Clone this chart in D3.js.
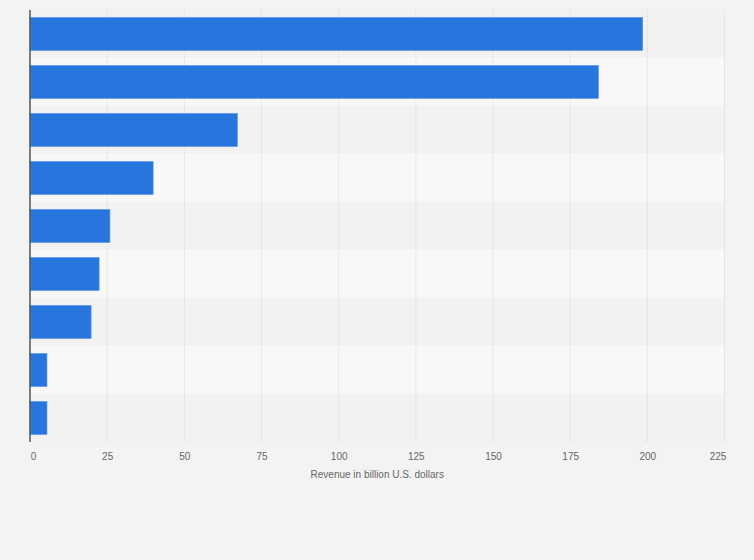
<!DOCTYPE html>
<html>
<head>
<meta charset="utf-8">
<script src="https://cdn.jsdelivr.net/npm/d3@7"></script>
<style>
  body { margin: 0; background: #f3f3f3; }
  svg { display: block; font-family: "Liberation Sans", Arial, sans-serif; }
</style>
</head>
<body>
<div id="chart"></div>
<script>
// one entry per bar, top to bottom (category names are not shown on the chart)
const categories = ['c1', 'c2', 'c3', 'c4', 'c5', 'c6', 'c7', 'c8', 'c9'];
const revenue = [198.5, 184.2, 67.2, 39.9, 25.9, 22.4, 19.8, 5.5, 5.5];
const xTicks = [0, 25, 50, 75, 100, 125, 150, 175, 200, 225];
const xTitle = 'Revenue in billion U.S. dollars';

const w = 754, h = 560;
const margin = {top: 10, right: 29.5, bottom: 118, left: 30};
const width = w - margin.left - margin.right;
const height = h - margin.top - margin.bottom;

const data = categories.map((c, i) => ({name: c, value: revenue[i]}));

const x = d3.scaleLinear()
  .domain([0, 225])
  .range([0, width]);

const y = d3.scaleBand()
  .domain(categories)
  .range([0, height])
  .paddingInner(0.31)
  .paddingOuter(0.155);

const svg = d3.select('#chart').append('svg')
  .attr('width', w)
  .attr('height', h);

svg.append('rect')
  .attr('width', w)
  .attr('height', h)
  .attr('fill', '#f3f3f3');

const chart = svg.append('g')
  .attr('transform', 'translate(' + margin.left + ',' + margin.top + ')');

// alternating row bands
const step = y.step();
chart.append('g').selectAll('rect')
  .data(categories)
  .enter()
  .append('rect')
  .attr('x', 0)
  .attr('y', d => y(d) - step * y.paddingInner() / 2)
  .attr('width', width)
  .attr('height', step)
  .attr('fill', (d, i) => i % 2 ? '#f8f8f8' : '#f2f2f2');

// vertical grid
chart.append('g').selectAll('line')
  .data(xTicks.slice(1))
  .enter()
  .append('line')
  .attr('x1', d => x(d))
  .attr('x2', d => x(d))
  .attr('y1', 0)
  .attr('y2', height)
  .attr('stroke', '#d6d6d6')
  .attr('stroke-width', 1)
  .attr('stroke-dasharray', '1,1');

// bars
chart.append('g').selectAll('rect')
  .data(data)
  .enter()
  .append('rect')
  .attr('x', x(0))
  .attr('y', d => y(d.name))
  .attr('width', d => x(d.value) - x(0))
  .attr('height', y.bandwidth())
  .attr('fill', '#2876dd')
  .attr('stroke', '#5b98e6')
  .attr('stroke-width', 0.6);

// y axis line
chart.append('line')
  .attr('x1', 0).attr('x2', 0)
  .attr('y1', 0).attr('y2', height)
  .attr('stroke', '#555')
  .attr('stroke-width', 1.5);

// x axis labels
const xAxis = chart.append('g')
  .attr('transform', 'translate(0,' + height + ')')
  .call(d3.axisBottom(x).tickValues(xTicks).tickSize(0).tickPadding(11));
xAxis.select('.domain').remove();
xAxis.selectAll('text')
  .attr('fill', '#666')
  .style('font-size', '10px')
  .attr('dx', (d, i) => i === 0 ? 3 : (d === 225 ? -7 : 0));

chart.append('text')
  .attr('x', width / 2)
  .attr('y', height + 36)
  .attr('text-anchor', 'middle')
  .attr('fill', '#666')
  .style('font-size', '10px')
  .text(xTitle);
</script>
</body>
</html>
